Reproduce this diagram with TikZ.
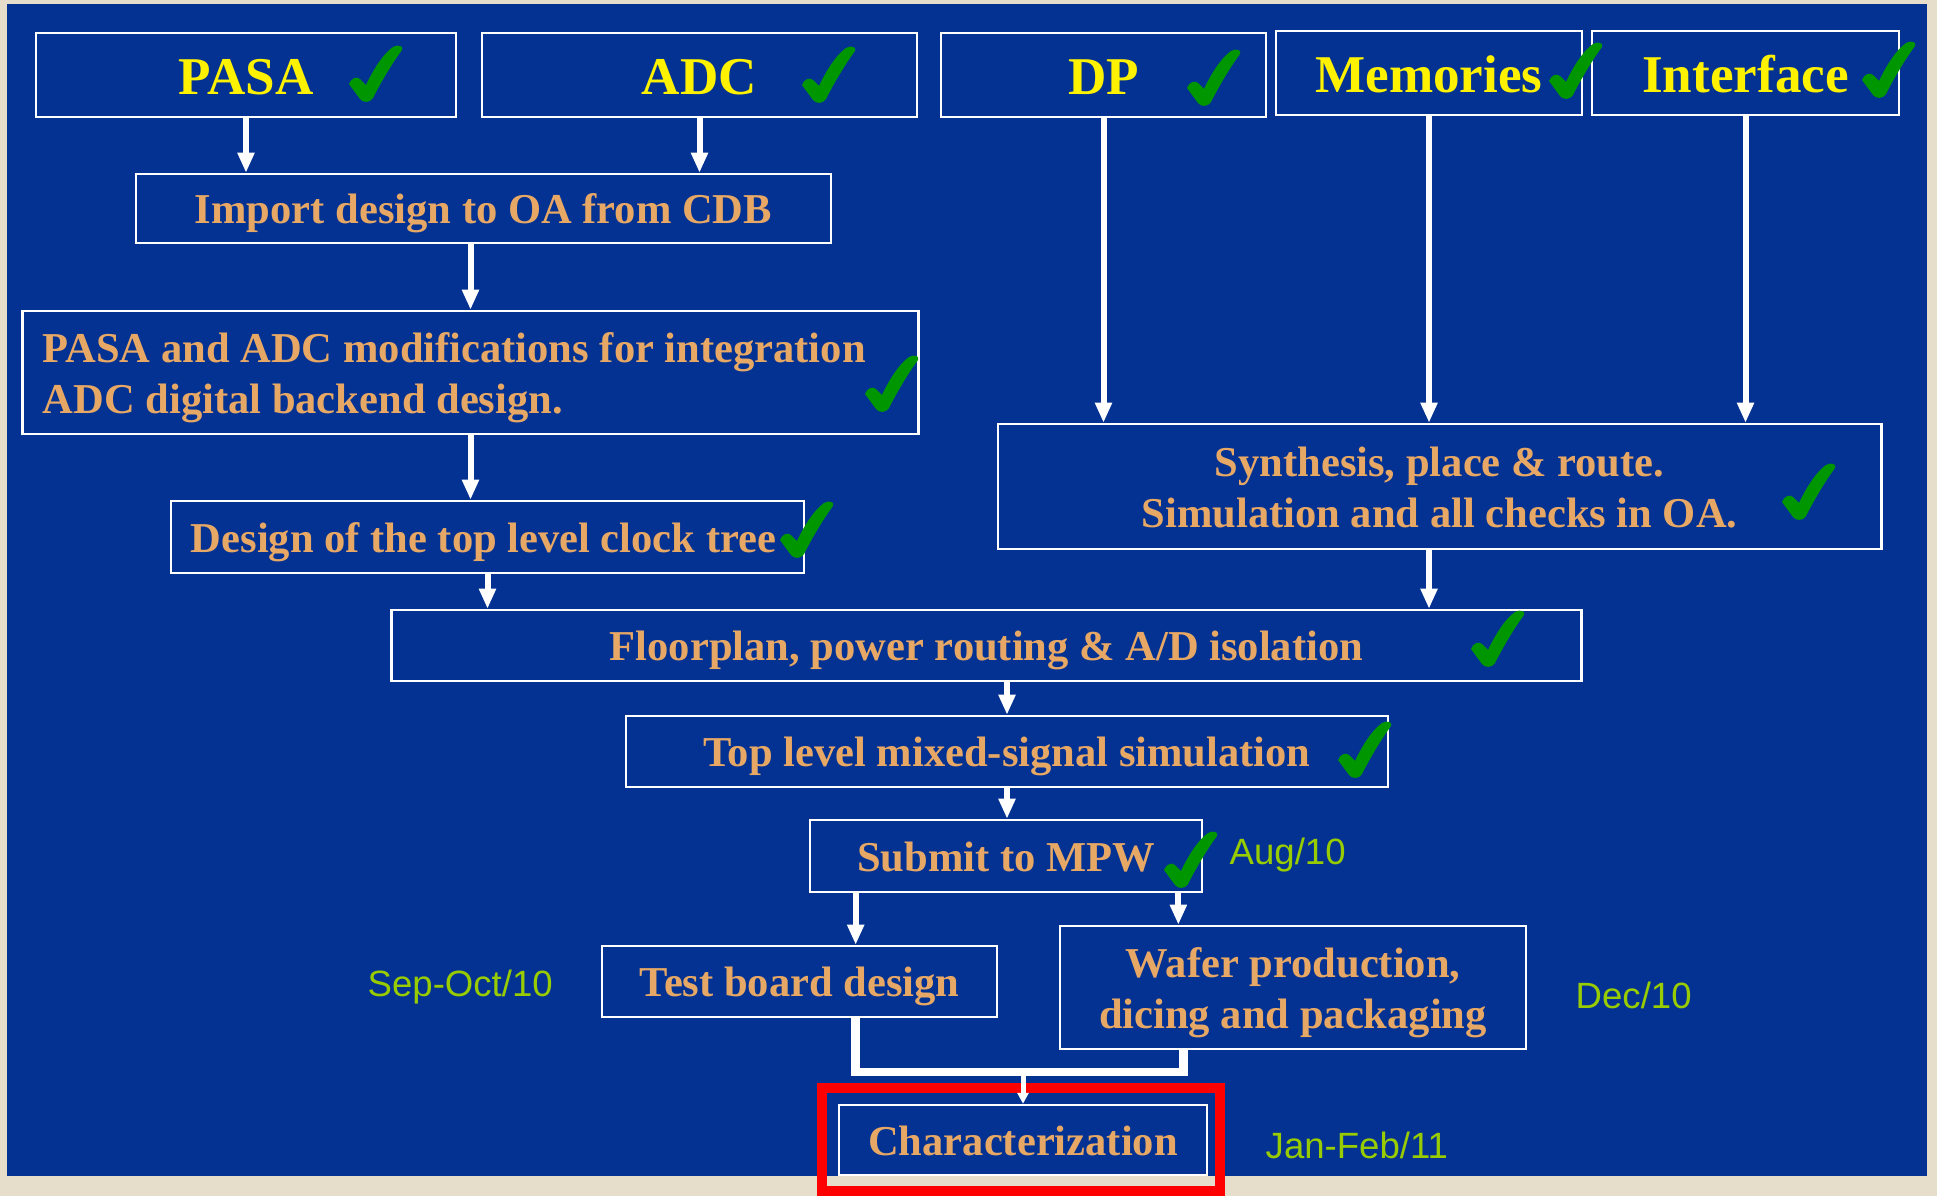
\documentclass[tikz,border=0pt]{standalone}
\usepackage{fontspec}
\setmainfont{Liberation Serif}
\newfontfamily\datefont{Liberation Sans}
\usetikzlibrary{arrows.meta}
\definecolor{slideblue}{RGB}{3,50,146}
\definecolor{boxtext}{RGB}{232,168,101}
\definecolor{datecol}{RGB}{153,204,0}
\definecolor{tickgreen}{RGB}{0,150,0}
\definecolor{paper}{RGB}{230,221,203}
\tikzset{chk/.pic={\fill[tickgreen] (-26,10) .. controls (-24,4) and (-18,2) .. (-15,5)
 -- (-9,11) .. controls (-2,-4) and (8,-20) .. (18,-27) .. controls (23,-30) and (29,-28) .. (27,-24)
 .. controls (18,-12) and (6,8) .. (-2,24) .. controls (-5,29) and (-12,29) .. (-15,25) -- cycle;}}
\begin{document}
\begin{tikzpicture}[x=0.01cm,y=-0.01cm,
flowbox/.style={draw=white,line width=0.025cm,inner sep=0pt,text=boxtext,
 font=\fontsize{12.1}{14.5}\selectfont\bfseries,align=center},
oneline/.style={flowbox,text height=0.4cm,text depth=0.1cm},
twoline/.style={flowbox,text height=0.39cm,text depth=0.6cm},
topbox/.style={flowbox,text=yellow,font=\fontsize{15.1}{18}\selectfont\bfseries,
 minimum height=0.84cm,text height=0.39cm,text depth=0cm},
datelbl/.style={text=datecol,font=\datefont\fontsize{10.4}{12}\selectfont,inner sep=0pt,anchor=base west},
arr/.style={white,line width=0.06cm,-{Triangle[width=0.16cm,length=0.2cm]}},
merge/.style={white,line width=0.085cm}]
\useasboundingbox (0,0) rectangle (1937,1196);
\fill[paper] (0,0) rectangle (1937,1196);
\fill[slideblue] (7,4) rectangle (1927,1176);
\node[topbox,minimum width=4.20cm] (pasa) at (246,75) {PASA};
\node[topbox,minimum width=4.35cm] (adc) at (699.5,75) {ADC};
\node[topbox,minimum width=3.25cm] (dp) at (1103.5,75) {DP};
\node[topbox,minimum width=3.06cm] (mem) at (1429,73) {Memories};
\node[topbox,minimum width=3.07cm] (intf) at (1745.5,73) {Interface};
\node[oneline,minimum width=6.95cm,minimum height=0.69cm] (imp) at (483.5,208.5) {Import design to OA from CDB};
\node[twoline,text width=8.55cm,inner xsep=0.2cm,minimum height=1.23cm,align=flush left] (mod) at (470.5,372.5)
 {PASA and ADC modifications for integration\\ADC digital backend design.};
\node[oneline,text width=5.93cm,inner xsep=0.2cm,minimum height=0.72cm,align=flush left] (clk) at (487.5,537)
 {\mbox{Design of the top level clock tree}};
\node[twoline,text width=8.5cm,minimum width=8.83cm,minimum height=1.25cm,align=flush center] (syn) at (1439.5,486.5)
 {Synthesis, place \& route.\\Simulation and all checks in OA.};
\node[oneline,minimum width=11.89cm,minimum height=0.71cm] (flr) at (986.5,645.5) {Floorplan, power routing \& A/D isolation};
\node[oneline,minimum width=7.62cm,minimum height=0.71cm] (tls) at (1007,751.5) {Top level mixed-signal simulation};
\node[oneline,minimum width=3.92cm,minimum height=0.72cm] (mpw) at (1006,856) {Submit to MPW};
\node[oneline,minimum width=3.95cm,minimum height=0.71cm] (tbd) at (799.5,981.5) {Test board design};
\node[twoline,text width=4.5cm,minimum width=4.66cm,minimum height=1.23cm,align=flush center] (waf) at (1293,987.5)
 {Wafer production,\\dicing and packaging};
\node[oneline,minimum width=3.68cm,minimum height=0.70cm] (chr) at (1023,1140) {Characterization};
\node[datelbl] (aug) at (1229,864) {Aug/10};
\node[datelbl] (sep) at (367,996) {Sep-Oct/10};
\node[datelbl] (dec) at (1575,1008) {Dec/10};
\node[datelbl] (jan) at (1265,1158) {Jan-Feb/11};
\foreach \x/\y in {375/74,828/75,1213/78,1575/71,1888/70,891/384,806/530,1808/492,1497/639,1364/750,1190/860}
 \pic at (\x,\y) {chk};
\foreach \n in {pasa,adc} \draw[arr] (\n) -- (\n |- imp.north);
\draw[arr] (imp.south -| mod) -- (mod.north);
\draw[arr] (mod) -- (mod |- clk.north);
\draw[arr] (clk) -- (clk |- flr.north);
\foreach \n in {dp,mem,intf} \draw[arr] (\n) -- (\n |- syn.north);
\draw[arr] (syn.south -| mem) -- (flr.north -| mem);
\draw[arr] (flr.south -| tls) -- (tls);
\draw[arr] (tls) -- (tls |- mpw.north);
\coordinate (tl) at ([xshift=0.47cm]mpw.south west);
\coordinate (wl) at ([xshift=-0.25cm]mpw.south east);
\draw[arr] (tl) -- (tl |- tbd.north);
\draw[arr] (wl) -- (wl |- waf.north);
\coordinate (wr) at ([xshift=1.25cm]waf.south west);
\coordinate (bar) at (0,1072);
\draw[merge] (tl |- tbd.south) -- (tl |- bar) -- (wr |- bar) -- (wr);
\draw[red,line width=0.1cm] (822,1088) rectangle (1220,1191);
\draw[white,line width=0.05cm,-{Triangle[width=0.11cm,length=0.11cm]}] (chr.north |- bar) -- (chr.north);
\end{tikzpicture}
\end{document}
